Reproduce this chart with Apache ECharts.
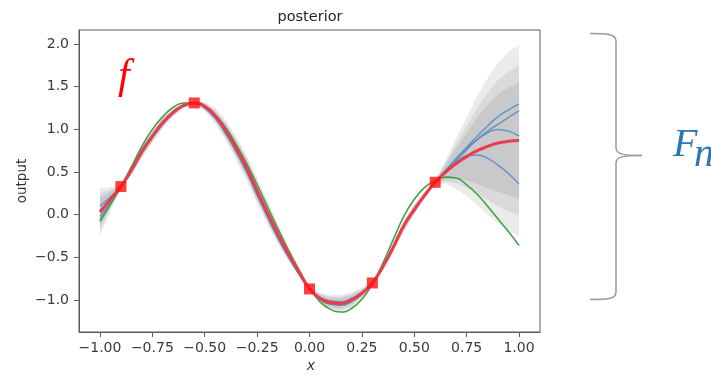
<!DOCTYPE html>
<html>
<head>
<meta charset="utf-8">
<script src="https://cdn.jsdelivr.net/npm/echarts@6.0.0/dist/echarts.min.js"></script>
<style>
html,body{margin:0;padding:0;background:#fff;}
#chart{width:711px;height:375px;}
</style>
</head>
<body>
<div id="chart"></div>
<script>
// ---- data ----
const xs = [-1.00,-0.95,-0.90,-0.85,-0.80,-0.75,-0.70,-0.65,-0.60,-0.55,-0.50,-0.45,-0.40,-0.35,-0.30,-0.25,-0.20,-0.15,-0.10,-0.05,
            0.00,0.05,0.10,0.15,0.20,0.25,0.30,0.35,0.40,0.45,0.50,0.55,0.60,0.65,0.70,0.75,0.80,0.85,0.90,0.95,1.00];
const meanY = [0.03,0.18,0.33,0.52,0.74,0.92,1.08,1.20,1.28,1.31,1.27,1.16,0.99,0.78,0.55,0.28,0.02,-0.23,-0.46,-0.67,
               -0.87,-0.98,-1.03,-1.04,-1.00,-0.92,-0.80,-0.61,-0.38,-0.13,0.06,0.23,0.38,0.50,0.60,0.68,0.75,0.80,0.84,0.86,0.87];
const trueY = [-0.08,0.12,0.33,0.56,0.80,1.00,1.15,1.26,1.31,1.31,1.26,1.17,1.02,0.82,0.60,0.35,0.09,-0.17,-0.42,-0.65,
               -0.86,-1.02,-1.11,-1.14,-1.10,-0.99,-0.81,-0.57,-0.29,-0.02,0.18,0.32,0.40,0.44,0.43,0.35,0.24,0.10,-0.05,-0.20,-0.36];
const sampleA = [0.10,0.21,0.33,0.53,0.75,0.93,1.09,1.21,1.29,1.31,1.26,1.14,0.96,0.74,0.50,0.23,-0.03,-0.28,-0.50,-0.70,
                 -0.87,-0.99,-1.05,-1.06,-1.02,-0.93,-0.80,-0.62,-0.39,-0.14,0.05,0.22,0.38,0.52,0.65,0.79,0.92,1.04,1.15,1.23,1.30];
const sampleB = [0.05,0.19,0.33,0.52,0.73,0.91,1.07,1.19,1.28,1.31,1.27,1.15,0.97,0.76,0.52,0.25,-0.01,-0.26,-0.48,-0.69,
                 -0.87,-0.97,-1.01,-1.02,-0.98,-0.91,-0.80,-0.61,-0.38,-0.13,0.06,0.23,0.38,0.51,0.64,0.76,0.88,0.98,1.06,1.14,1.22];
const sampleC = [-0.02,0.15,0.33,0.51,0.72,0.90,1.06,1.19,1.28,1.31,1.25,1.13,0.95,0.74,0.51,0.24,-0.02,-0.27,-0.49,-0.69,
                 -0.87,-0.99,-1.04,-1.05,-1.01,-0.93,-0.80,-0.61,-0.37,-0.12,0.07,0.24,0.38,0.52,0.66,0.78,0.88,0.96,1.00,0.98,0.92];
const sampleD = [-0.06,0.13,0.33,0.52,0.74,0.92,1.08,1.20,1.28,1.31,1.26,1.15,0.97,0.76,0.53,0.26,0.00,-0.25,-0.48,-0.68,
                 -0.87,-0.98,-1.03,-1.04,-1.00,-0.92,-0.80,-0.62,-0.39,-0.14,0.05,0.22,0.38,0.51,0.62,0.69,0.70,0.66,0.58,0.48,0.36];
// half widths of the three grey bands around the mean
const bandOuter = [0.28,0.14,0.02,0.06,0.08,0.08,0.07,0.05,0.03,0.02,0.05,0.09,0.12,0.14,0.15,0.15,0.14,0.12,0.09,0.05,
                   0.02,0.06,0.09,0.10,0.09,0.06,0.02,0.04,0.06,0.07,0.06,0.04,0.02,0.14,0.30,0.46,0.64,0.80,0.94,1.05,1.12];
const bandMid   = [0.22,0.11,0.02,0.05,0.06,0.06,0.05,0.04,0.02,0.02,0.04,0.07,0.09,0.11,0.12,0.12,0.11,0.09,0.07,0.04,
                   0.02,0.05,0.07,0.08,0.07,0.05,0.02,0.03,0.05,0.05,0.05,0.03,0.02,0.11,0.23,0.36,0.50,0.63,0.74,0.82,0.88];
const bandInner = [0.17,0.09,0.01,0.04,0.05,0.05,0.04,0.03,0.02,0.01,0.03,0.05,0.07,0.08,0.09,0.09,0.08,0.07,0.05,0.03,
                   0.01,0.04,0.05,0.06,0.05,0.04,0.01,0.02,0.04,0.04,0.04,0.02,0.01,0.09,0.18,0.28,0.39,0.49,0.57,0.63,0.68];
const obsX = [-0.90,-0.55,0.00,0.30,0.60];
const obsY = [0.33,1.31,-0.87,-0.80,0.38];
const xTicks = [-1.00,-0.75,-0.50,-0.25,0.00,0.25,0.50,0.75,1.00];
const yTicks = [-1.0,-0.5,0.0,0.5,1.0,1.5,2.0];

// ---- build ----
const pairs = arr => xs.map((x, i) => [x, arr[i]]);
const FONT = "'DejaVu Sans', sans-serif";
const AX = '#5a5a5a';
const fmt = d => v => (v < 0 ? '\u2212' : '') + Math.abs(v).toFixed(d);

const series = [];
function band(name, hw, color) {
  series.push({
    type: 'custom', name: name, silent: true, z: 1,
    data: [[0]],
    renderItem: function (params, api) {
      const pts = [];
      for (let i = 0; i < xs.length; i++) pts.push(api.coord([xs[i], meanY[i] + hw[i]]));
      for (let i = xs.length - 1; i >= 0; i--) pts.push(api.coord([xs[i], meanY[i] - hw[i]]));
      return { type: 'polygon', shape: { points: pts }, style: { fill: color, stroke: null } };
    }
  });
}
band('outer', bandOuter, '#ebebeb');
band('mid', bandMid, '#dadada');
band('inner', bandInner, '#c9c9cb');

[sampleA, sampleB, sampleC, sampleD].forEach((s, k) => {
  series.push({
    type: 'line', name: 'sample' + k, smooth: true, symbol: 'none', silent: true, z: 2,
    lineStyle: { color: '#5b8fbf', width: 1.5, opacity: 0.9 }, data: pairs(s)
  });
});
series.push({
  type: 'line', name: 'f', smooth: true, symbol: 'none', silent: true, z: 2,
  lineStyle: { color: '#45a045', width: 1.6 }, data: pairs(trueY)
});
series.push({
  type: 'line', name: 'mean', smooth: true, symbol: 'none', silent: true, z: 3,
  lineStyle: { color: '#ee3b4c', width: 3 }, data: pairs(meanY)
});
series.push({
  type: 'scatter', name: 'obs', symbol: 'rect', symbolSize: 11, silent: true,
  itemStyle: { color: '#ff1010' }, z: 5,
  data: obsX.map((x, i) => [x, obsY[i]])
});

const BR = { stroke: '#9a9a9a', lineWidth: 1.5, fill: null };
const chart = echarts.init(document.getElementById('chart'), null, { renderer: 'canvas' });
chart.setOption({
  animation: false,
  backgroundColor: '#fff',
  grid: { left: 79, right: 171, top: 30, bottom: 43, show: true, borderColor: AX, borderWidth: 1, backgroundColor: 'transparent' },
  xAxis: {
    type: 'value', min: -1.1, max: 1.1,
    axisLine: { show: true, onZero: false, lineStyle: { color: AX } },
    axisTick: { show: true, length: 5, lineStyle: { color: AX }, customValues: xTicks },
    axisLabel: { customValues: xTicks, formatter: fmt(2), fontFamily: FONT, fontSize: 14, color: '#3a3a3a', margin: 9 },
    splitLine: { show: false }
  },
  yAxis: {
    type: 'value', min: -1.375, max: 2.165,
    axisLine: { show: true, onZero: false, lineStyle: { color: AX } },
    axisTick: { show: true, length: 5, lineStyle: { color: AX }, customValues: yTicks },
    axisLabel: { customValues: yTicks, formatter: fmt(1), fontFamily: FONT, fontSize: 14, color: '#3a3a3a', margin: 10 },
    splitLine: { show: false }
  },
  series: series,
  graphic: [
    { type: 'text', x: 310, y: 17, style: { text: 'posterior', font: "14.5px 'DejaVu Sans'", fill: '#262626', align: 'center', verticalAlign: 'middle' } },
    { type: 'text', x: 22, y: 181, rotation: Math.PI / 2, style: { text: 'output', font: "13.5px 'DejaVu Sans'", fill: '#333', align: 'center', verticalAlign: 'middle' } },
    { type: 'text', x: 311, y: 366, style: { text: 'x', font: "italic 14px 'DejaVu Sans'", fill: '#333', align: 'center', verticalAlign: 'middle' } },
    { type: 'text', x: 118, y: 77, style: { text: 'f', font: "italic 42px 'Liberation Serif'", fill: '#ff0000', align: 'left', verticalAlign: 'middle' } },
    { type: 'text', x: 673, y: 145, style: { text: 'F', font: "italic 40px 'Liberation Serif'", fill: '#2e75b6', align: 'left', verticalAlign: 'middle' } },
    { type: 'text', x: 694, y: 155, style: { text: 'n', font: "italic 40px 'Liberation Serif'", fill: '#2e75b6', align: 'left', verticalAlign: 'middle' } },
    { type: 'bezierCurve', shape: { x1: 590, y1: 33.5, cpx1: 606, cpy1: 33.5, cpx2: 616, cpy2: 33.5, x2: 616, y2: 41 }, style: BR },
    { type: 'line', shape: { x1: 616, y1: 41, x2: 616, y2: 148 }, style: BR },
    { type: 'bezierCurve', shape: { x1: 616, y1: 148, cpx1: 616, cpy1: 155, cpx2: 626, cpy2: 155.5, x2: 642, y2: 155.5 }, style: BR },
    { type: 'bezierCurve', shape: { x1: 642, y1: 155.5, cpx1: 626, cpy1: 155.5, cpx2: 616, cpy2: 156, x2: 616, y2: 163 }, style: BR },
    { type: 'line', shape: { x1: 616, y1: 163, x2: 616, y2: 292 }, style: BR },
    { type: 'bezierCurve', shape: { x1: 616, y1: 292, cpx1: 616, cpy1: 299.5, cpx2: 606, cpy2: 299.5, x2: 590, y2: 299.5 }, style: BR }
  ]
});
</script>
</body>
</html>
